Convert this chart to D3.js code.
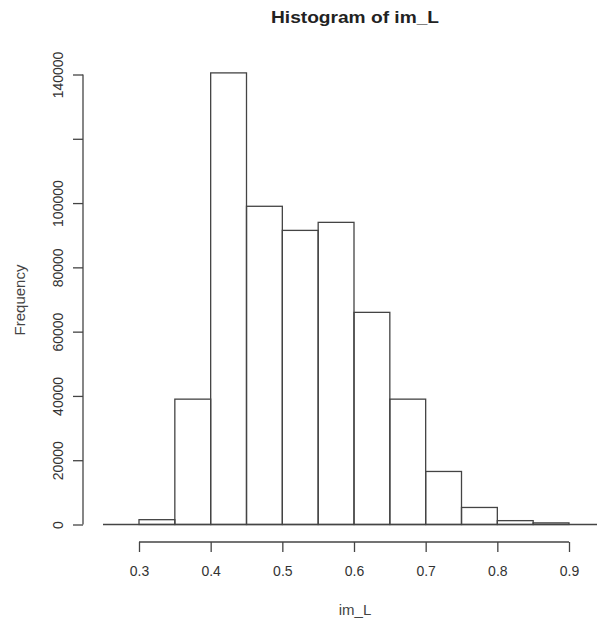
<!DOCTYPE html>
<html>
<head>
<meta charset="utf-8">
<script src="https://cdn.jsdelivr.net/npm/d3@7"></script>
<style>
  body { margin: 0; background: #fff; }
  text { font-family: "Liberation Sans", Arial, sans-serif; fill: #333; }
</style>
</head>
<body>
<script>
// bins of im_L (width 0.05) and counts
const binStarts = [0.30, 0.35, 0.40, 0.45, 0.50, 0.55, 0.60, 0.65, 0.70, 0.75, 0.80, 0.85];
const counts = [1500, 39000, 140500, 99000, 91500, 94000, 66000, 39000, 16500, 5300, 1200, 500];
const xTicks = [0.3, 0.4, 0.5, 0.6, 0.7, 0.8, 0.9];
const yTicks = [0, 20000, 40000, 60000, 80000, 100000, 120000, 140000];
const yLabels = ["0", "20000", "40000", "60000", "80000", "100000", "", "140000"];
const binWidth = 0.05;

var svg = d3.select("body").append("svg")
    .attr("width", 597)
    .attr("height", 622);

var x = d3.scaleLinear().domain([0.3, 0.9]).range([139, 569]);
var y = d3.scaleLinear().domain([0, 140000]).range([524.5, 74.5]);

var data = binStarts.map((b, i) => ({x0: b, x1: b + binWidth, n: counts[i]}));

// baseline
svg.append("line")
    .attr("x1", 103).attr("x2", 597)
    .attr("y1", y(0)).attr("y2", y(0))
    .attr("stroke", "#444").attr("stroke-width", 1.3);

svg.selectAll("rect.bar")
    .data(data)
    .enter()
    .append("rect")
    .attr("class", "bar")
    .attr("x", d => x(d.x0))
    .attr("width", d => x(d.x1) - x(d.x0))
    .attr("y", d => y(d.n))
    .attr("height", d => y(0) - y(d.n))
    .attr("fill", "none")
    .attr("stroke", "#444")
    .attr("stroke-width", 1.3);

// x axis
var xAxis = svg.append("g")
    .attr("transform", "translate(0,542)")
    .call(d3.axisBottom(x).tickValues(xTicks).tickSize(10).tickPadding(14)
        .tickFormat(d3.format(".1f")));
xAxis.select(".domain").attr("stroke", "#444").attr("stroke-width", 1.3)
    .attr("d", `M${x(0.3)},0H${x(0.9)}`);
xAxis.selectAll(".tick line").attr("stroke", "#444").attr("stroke-width", 1.3);
xAxis.selectAll("text").attr("font-size", 14).attr("fill", "#444")
    .attr("font-family", "Liberation Sans, Arial, sans-serif");

// y axis
var yAxis = svg.append("g")
    .attr("transform", "translate(83,0)")
    .call(d3.axisLeft(y).tickValues(yTicks).tickSize(10)
        .tickFormat((d, i) => yLabels[i]));
yAxis.select(".domain").attr("stroke", "#444").attr("stroke-width", 1.3)
    .attr("d", `M0,${y(0)}V${y(140000)}`);
yAxis.selectAll(".tick line").attr("stroke", "#444").attr("stroke-width", 1.3);
yAxis.selectAll(".tick text")
    .attr("x", null).attr("dy", null)
    .attr("text-anchor", "middle")
    .attr("font-size", 14).attr("fill", "#444")
    .attr("font-family", "Liberation Sans, Arial, sans-serif")
    .attr("transform", "translate(-20,0) rotate(-90)");

// titles
svg.append("text")
    .attr("x", 355).attr("y", 23)
    .attr("text-anchor", "middle")
    .attr("font-size", 17).attr("font-weight", "bold")
    .attr("textLength", 168).attr("lengthAdjust", "spacingAndGlyphs")
    .style("fill", "#222")
    .text("Histogram of im_L");

svg.append("text")
    .attr("x", 355).attr("y", 615)
    .attr("text-anchor", "middle")
    .attr("font-size", 15)
    .style("fill", "#444")
    .text("im_L");

svg.append("text")
    .attr("transform", "translate(25,300) rotate(-90)")
    .attr("text-anchor", "middle")
    .attr("font-size", 15)
    .style("fill", "#444")
    .text("Frequency");
</script>
</body>
</html>
